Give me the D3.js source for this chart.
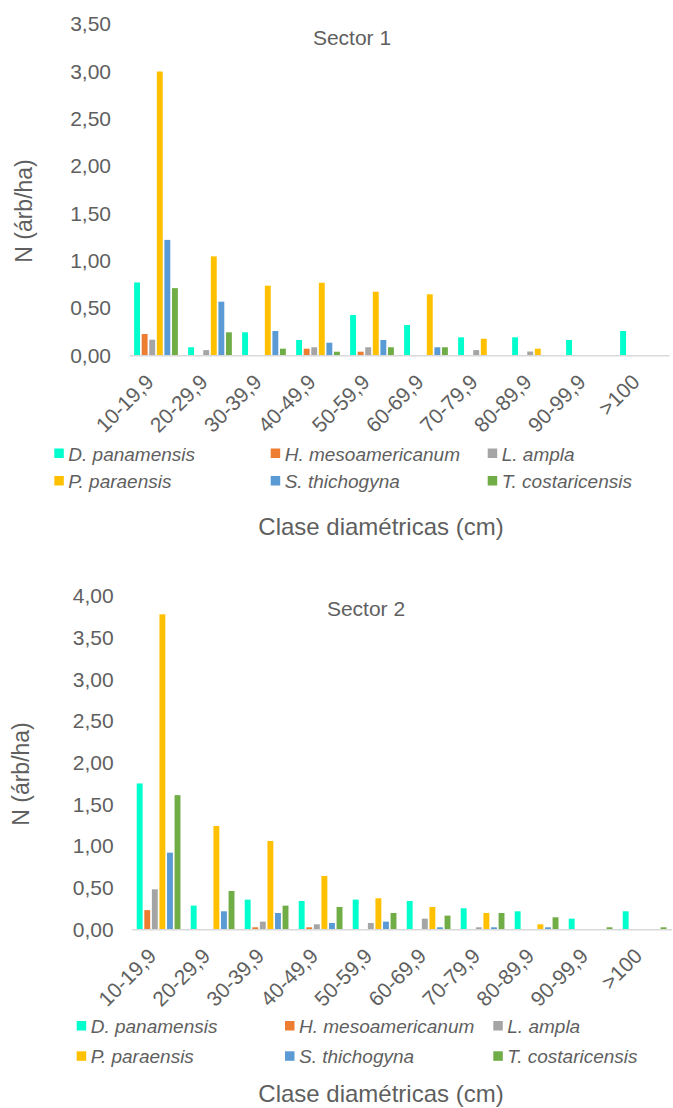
<!DOCTYPE html>
<html><head><meta charset="utf-8">
<script src="https://cdn.jsdelivr.net/npm/d3@7"></script>
<style>body{margin:0;background:#fff}svg{display:block}</style>
</head><body>
<svg id="c" width="673" height="1108"></svg>
<script>
// ---- data ----
const categories = ["10-19,9","20-29,9","30-39,9","40-49,9","50-59,9","60-69,9","70-79,9","80-89,9","90-99,9",">100"];
const species = ["D. panamensis","H. mesoamericanum","L. ampla","P. paraensis","S. thichogyna","T. costaricensis"];
const colors = ["#00FFCC","#ED7D31","#A5A5A5","#FFC000","#5B9BD5","#70AD47"];
const sector1 = [
  [0.77,0.085,0.243,0.162,0.426,0.32,0.19,0.19,0.162,0.257],
  [0.225,0,0,0.07,0.038,0,0,0,0,0],
  [0.165,0.055,0,0.085,0.085,0,0.055,0.04,0,0],
  [3.0,1.046,0.736,0.767,0.672,0.645,0.175,0.07,0,0],
  [1.22,0.567,0.257,0.133,0.162,0.085,0,0,0,0],
  [0.71,0.243,0.07,0.038,0.085,0.085,0,0,0,0]
];
const sector2 = [
  [1.75,0.284,0.356,0.34,0.356,0.34,0.252,0.216,0.128,0.216],
  [0.23,0,0.024,0.024,0,0,0,0,0,0],
  [0.48,0,0.092,0.06,0.076,0.128,0.024,0,0,0],
  [3.78,1.24,1.06,0.64,0.372,0.268,0.196,0.06,0,0],
  [0.92,0.216,0.196,0.076,0.092,0.024,0.024,0.024,0,0],
  [1.61,0.46,0.284,0.268,0.196,0.164,0.196,0.144,0.024,0.024]
];
const yTicks1 = [0,0.5,1,1.5,2,2.5,3,3.5];
const yTicks2 = [0,0.5,1,1.5,2,2.5,3,3.5,4];
const titles = ["Sector 1","Sector 2"];
const yTitle = "N (árb/ha)";
const xTitle = "Clase diamétricas (cm)";

// ---- drawing ----
const svg = d3.select("#c");
const FONT = "'Liberation Sans', Arial, Helvetica, sans-serif";
const TXT = "#5f5f5f";
const fmt = d3.formatLocale({decimal:",",thousands:".",grouping:[3],currency:["",""]}).format(".2f");

function drawChart(cfg){
  const g = svg.append("g");
  const x0 = d3.scaleBand().domain(categories).range([cfg.left, cfg.right]).paddingInner(0.19).paddingOuter(0.095);
  const x1 = d3.scaleBand().domain(d3.range(species.length)).range([0, x0.bandwidth()]).paddingInner(0.22);
  const y = d3.scaleLinear().domain([0, d3.max(cfg.ticks)]).range([cfg.base, cfg.top]);

  // title
  g.append("text").attr("x", cfg.titleX).attr("y", cfg.titleY).attr("text-anchor","middle")
    .attr("font-family",FONT).attr("font-size",21).attr("fill",TXT).text(cfg.title);

  // y axis (labels only)
  const ya = d3.axisLeft(y).tickValues(cfg.ticks).tickFormat(fmt).tickSize(0).tickPadding(0);
  const yg = g.append("g").attr("transform",`translate(${cfg.left-18},0)`).call(ya);
  yg.select(".domain").remove();
  yg.selectAll("text").attr("font-family",FONT).attr("font-size",21).attr("fill",TXT);

  // y title
  g.append("text").attr("transform",`translate(${cfg.yTitleX},${cfg.yTitleY}) rotate(-90)`)
    .attr("text-anchor","middle").attr("font-family",FONT).attr("font-size",23).attr("fill",TXT).text(yTitle);

  // bars
  const rows = [];
  cfg.values.forEach((arr,si)=>arr.forEach((v,ci)=>rows.push({si,ci,v})));
  g.append("g").selectAll("rect").data(rows.filter(d=>d.v>0)).join("rect")
    .attr("x", d=>x0(categories[d.ci]) + x1(d.si))
    .attr("width", x1.bandwidth())
    .attr("y", d=>y(d.v))
    .attr("height", d=>y(0)-y(d.v))
    .attr("fill", d=>colors[d.si]);

  // x axis
  const xa = d3.axisBottom(x0).tickSize(0).tickPadding(0);
  const xg = g.append("g").attr("transform",`translate(0,${cfg.base})`).call(xa);
  xg.select(".domain").attr("stroke","#D9D9D9").attr("stroke-width",1.5);
  xg.selectAll(".tick text")
    .attr("font-family",FONT).attr("font-size",21).attr("fill",TXT)
    .attr("text-anchor","end").attr("dy",null).attr("y",null)
    .attr("transform","translate(-1,28) rotate(-45)");

  // legend
  const lg = g.append("g");
  species.forEach((s,i)=>{
    const col = i%3, row = Math.floor(i/3);
    const lx = cfg.legCols[col], ly = cfg.legRows[row];
    lg.append("rect").attr("x",lx).attr("y",ly-12).attr("width",9.5).attr("height",9.5).attr("fill",colors[i]);
    lg.append("text").attr("x",lx+14).attr("y",ly).attr("font-family",FONT).attr("font-size",19)
      .attr("font-style","italic").attr("fill",TXT).text(s);
  });

  // x title
  g.append("text").attr("x",cfg.xTitleX).attr("y",cfg.xTitleY).attr("text-anchor","middle")
    .attr("font-family",FONT).attr("font-size",24).attr("fill",TXT).text(xTitle);
}

drawChart({values:sector1, ticks:yTicks1, title:titles[0],
  left:129, right:669, base:355.3, top:355.3-3.5*94.6,
  titleX:352, titleY:45, yTitleX:32, yTitleY:211,
  legCols:[54.3,270.7,487.7], legRows:[460.5,488],
  xTitleX:381, xTitleY:535});

drawChart({values:sector2, ticks:yTicks2, title:titles[1],
  left:131.6, right:671.6, base:929.3, top:929.3-4*83.33,
  titleX:366, titleY:616, yTitleX:28.5, yTitleY:774,
  legCols:[76.7,285,493.3], legRows:[1033,1063.3],
  xTitleX:381, xTitleY:1101.5});
</script>
</body></html>
